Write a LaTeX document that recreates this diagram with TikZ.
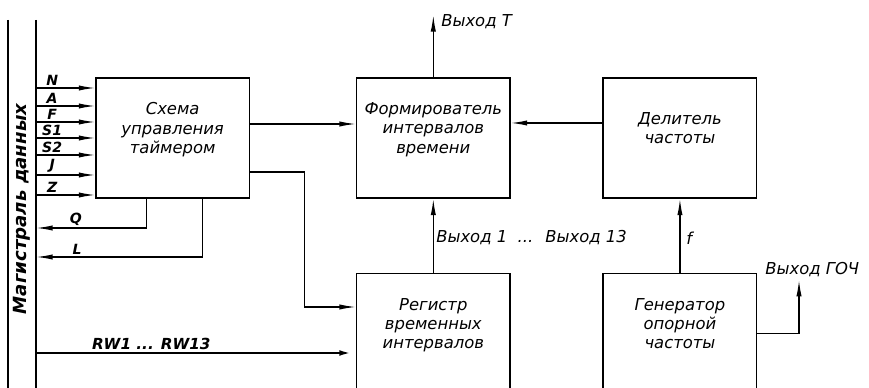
\documentclass[tikz,border=0pt]{standalone}
\usepackage{fontspec}
\setmainfont{DejaVu Sans}
\usepackage{graphicx}
\usetikzlibrary{positioning,arrows.meta,calc}

\begin{document}
\begin{tikzpicture}[>={Latex[length=14pt,width=4.5pt]},
    box/.style={rectangle,draw,line width=1.4pt,minimum width=4.6cm,minimum height=3.6cm,
                text depth=0.6cm,align=center,font=\itshape\fontsize{14}{16.5}\selectfont},
    ar/.style={->,line width=1.1pt},
    lbl/.style={font=\itshape\fontsize{14}{16}\selectfont,inner sep=2pt},
    sig/.style={font=\bfseries\itshape\fontsize{12}{14}\selectfont,inner sep=1.5pt}]
    \clip (0,0) rectangle (26.07,11.64);
    % bus
    \node[minimum width=0.84cm,minimum height=11.34cm,inner sep=0pt,
          font=\bfseries\itshape\fontsize{15.5}{18}\selectfont] (bus) at (0.66,5.37)
          {\rotatebox{90}{Магистраль данных}};
    \draw[line width=1.8pt] (bus.north west) -- (bus.south west);
    \draw[line width=1.8pt] (bus.north east) -- (bus.south east);
    % blocks
    \node[box] (ctrl) at (5.18,7.5) {Схема\\управления\\таймером};
    \node[box,right=3.17cm of ctrl] (fmt) {Формирователь\\интервалов\\времени};
    \node[box,right=2.75cm of fmt]  (div) {Делитель\\частоты};
    \node[box,below=2.22cm of fmt]  (reg) {Регистр\\временных\\интервалов};
    \node[box,below=2.22cm of div]  (gen) {Генератор\\опорной\\частоты};
    % inputs of the control block
    \foreach \lab/\yy in {N/9.0,A/8.46,F/7.98,S1/7.5,S2/6.99,J/6.39,Z/5.79}
      \draw[ar] (bus.east |- 0,\yy) -- node[pos=0.27,above,sig]{\lab} (ctrl.west |- 0,\yy);
    \draw[ar] ($(ctrl.south west)+(1.53,0)$) |- node[pos=0.82,above,sig]{Q} (bus.east |- 0,4.8);
    \draw[ar] ($(ctrl.south west)+(3.21,0)$) |- node[pos=0.877,above,sig]{L} (bus.east |- 0,3.93);
    % links
    \draw[ar] (ctrl.east |- 0,7.92) -- (fmt.west |- 0,7.92);
    \draw[ar] (ctrl.east |- 0,6.48) -- ++(1.62,0) |- (reg.west |- 0,2.43);
    \draw[ar,line width=2.2pt] (bus.east |- 0,1.05) -- node[pos=0.36,above,sig,font=\bfseries\itshape\fontsize{13}{15}\selectfont]{RW1 ... RW13} (reg.west |- 0,1.05);
    \draw[ar] (div.west |- 0,7.95) -- (fmt.east |- 0,7.95);
    \draw[ar] (reg) -- node[pos=0.47,right,lbl]{Выход 1 \ ... \ Выход 13} (fmt);
    \draw[ar] (gen) -- node[pos=0.47,right,lbl,xshift=0.1cm]{f} (div);
    % outputs
    \coordinate[above=1.86cm of fmt.north] (outT);
    \draw[ar] (fmt) -- (outT) node[pos=0.9,right,lbl,xshift=0.15cm]{Выход T};
    \coordinate (outG) at (23.97,3.24);
    \draw[ar] (gen.east) -| (outG) node[above,xshift=0.4cm,lbl]{Выход ГОЧ};
\end{tikzpicture}
\end{document}
